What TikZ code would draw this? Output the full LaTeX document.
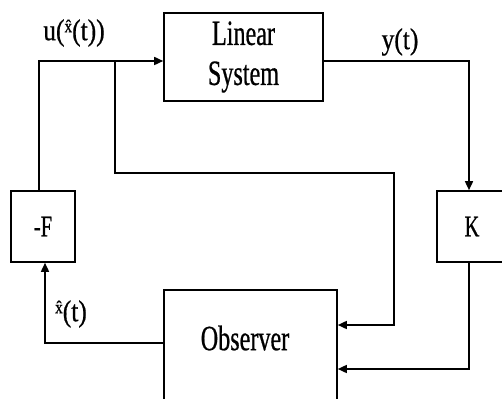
\documentclass[tikz,border=0pt]{standalone}
\usepackage{fontspec}
\setmainfont{Liberation Serif}[FakeStretch=0.68,FakeBold=0.6]
\newfontfamily\labfont{Liberation Serif}[FakeStretch=0.85,FakeBold=0.6]
\usetikzlibrary{arrows.meta}
\tikzset{
  blk/.style={draw, line width=1.6pt, inner sep=0pt},
  bigtxt/.style={font=\fontsize{35.5}{40}\selectfont, align=center, inner sep=0pt},
  boxtxt/.style={font=\fontsize{30}{32}\selectfont, inner sep=0pt},
  labtxt/.style={font=\labfont\fontsize{30}{32}\selectfont, inner sep=0pt},
  wire/.style={line width=1.6pt},
  arr/.style={wire, -{Triangle[length=9pt,width=8pt]}}
}
\newcommand{\xhatsm}{\raisebox{8pt}{\fontsize{18}{18}\selectfont\^{x}}}
\begin{document}
\begin{tikzpicture}[x=1pt,y=-1pt]
\useasboundingbox (0,0) rectangle (502,398);
% blocks
\node[blk, minimum width=159pt, minimum height=88pt] (LS) at (243.5,57) {};
\node[bigtxt] (LStxt) at (243.5,57) {Linear\\System};
\node[blk, minimum width=64pt, minimum height=71pt, boxtxt] (F) at (43,226.5) {-F};
\node[blk, minimum width=70pt, minimum height=71pt, boxtxt] (K) at (472,226.5) {K};
\node[blk, minimum width=173pt, minimum height=140pt] (obs) at (250.5,360) {};
\node[bigtxt] (obstxt) at (245,338) {Observer};
% coordinates
\coordinate (lx) at (39,61);
\coordinate (j) at (115,61);
\coordinate (rj) at (394,173);
\coordinate (kx) at (469,61);
% connectors
\draw[arr] (lx |- F.north) -- (lx) -- (LS.west |- lx);
\draw[arr] (j) |- (rj) -- (rj |- 0,325) -- (obs.east |- 0,325);
\draw[arr] (LS.east |- kx) -- (kx) -- (kx |- K.north);
\draw[arr] (kx |- K.south) -- (kx |- 0,369) -- (obs.east |- 0,369);
\draw[arr] (obs.west |- 0,343) -- (45,343) -- (45,0 |- F.south);
% labels
\node[labtxt] (ulab) at (74,33) {u(\xhatsm(t))};
\node[labtxt] (ylab) at (400,42) {y(t)};
\node[labtxt] (xlab) at (71,314) {\xhatsm(t)};
\end{tikzpicture}
\end{document}
